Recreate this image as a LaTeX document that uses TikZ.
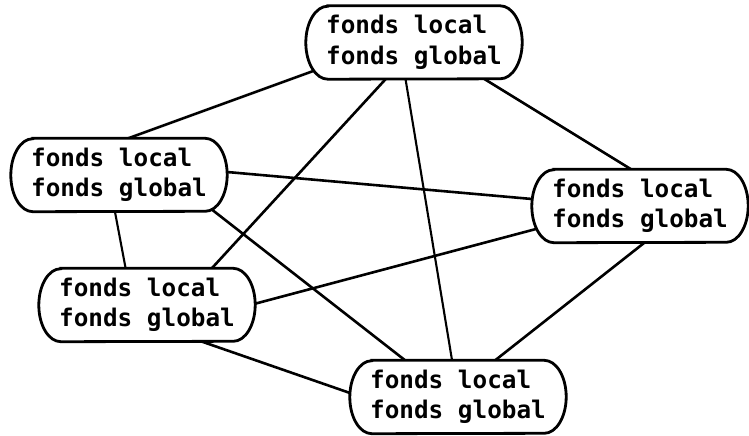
\documentclass[tikz,border=0pt]{standalone}
\usepackage{fontspec}
\newfontfamily\monofnt{DejaVu Sans Mono}
\usetikzlibrary{calc}
\tikzset{
  ftext/.style={rectangle, minimum width=216pt, minimum height=73pt, inner sep=0pt, align=left,
    font=\monofnt\bfseries\fontsize{24.3}{30.5}\selectfont},
  boxline/.style={draw, fill=white, line width=2.8pt},
  link/.style={line width=2.6pt, shorten <=-4pt, shorten >=-4pt},
  thinlink/.style={link, line width=2.1pt}
}
\newcommand\fbx[1]{%
  \path[boxline] ([xshift=22pt]#1.north west) -- ([xshift=-22pt]#1.north east)
    arc[start angle=90, end angle=-90, x radius=22pt, y radius=36.5pt]
    -- ([xshift=22pt]#1.south west)
    arc[start angle=270, end angle=90, x radius=22pt, y radius=36.5pt] -- cycle;
  \node[ftext] at (#1) {fonds local\\fonds global};}
\begin{document}
\begin{tikzpicture}[x=1pt,y=-1pt]
\useasboundingbox (0,0) rectangle (749,436);
\coordinate (T)  at (414,42.5);
\coordinate (L)  at (119,175);
\coordinate (R)  at (640,206);
\coordinate (LL) at (147,305);
\coordinate (B)  at (458,397);
% anchor frames (invisible) for the boxes
\foreach \n in {T,L,R,LL,B} {\node[ftext] (\n box) at (\n) {};}
% connectors
\draw[link] ($(T)+(-98,27.5)$) -- ($(L)+(10,-37)$);
\draw[link] ($(T)+(-31,39.5)$) -- ($(LL)+(66,-38)$);
\draw[thinlink] ($(T)+(-8,39.5)$) -- ($(B)+(-6,-37)$);
\draw[link] ($(T)+(72,37.5)$) -- ($(R)+(-11,-38)$);
\draw[link] ($(L)+(108,-3)$) -- ($(R)+(-108,-7)$);
\draw[thinlink] ($(L)+(-4,37)$) -- ($(LL)+(-22,-40)$);
\draw[link] ($(L)+(87,30)$) -- ($(B)+(-52,-36)$);
\draw[link] ($(LL)+(107,-1)$) -- ($(R)+(-104,23)$);
\draw[link] ($(LL)+(56,37)$) -- ($(B)+(-108,-4)$);
\draw[link] ($(R)+(4,37)$) -- ($(B)+(35,-35)$);
% boxes
\fbx{Tbox}\fbx{Lbox}\fbx{Rbox}\fbx{LLbox}\fbx{Bbox}
\end{tikzpicture}
\end{document}
